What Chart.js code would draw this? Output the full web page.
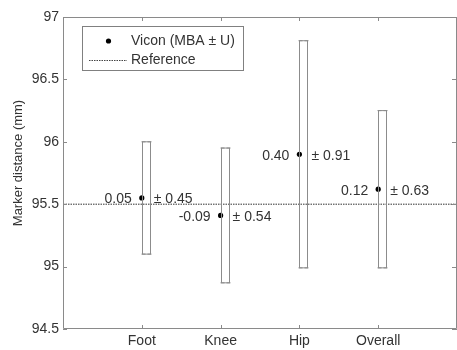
<!DOCTYPE html>
<html>
<head>
  <script src="https://cdn.jsdelivr.net/npm/chart.js@4"></script>
  <style>
    html, body { margin: 0; padding: 0; overflow: hidden; background: #fff; }
  </style>
</head>
<body>
  <canvas id="mbaCanvas" width="461" height="350"></canvas>

  <script>
    const categories = ['Foot', 'Knee', 'Hip', 'Overall'];
    const referenceValue = 95.5;
    const mba = [0.05, -0.09, 0.40, 0.12];
    const uncertainty = [0.45, 0.54, 0.91, 0.63];
    const yTicks = [94.5, 95, 95.5, 96, 96.5, 97];

    const axisColor = '#8a8a8a';
    const textColor = '#333333';
    const textFont = '14px "Liberation Sans", Arial, sans-serif';

    let viconPoints = categories.map((c, i) => ({ x: i + 1, y: referenceValue + mba[i] }));
    let referenceLine = [{ x: 0, y: referenceValue }, { x: categories.length + 1, y: referenceValue }];

    // draws the U rectangles, value labels, axis box, inner ticks, y title and the legend box
    const decorPlugin = {
      id: 'decor',
      afterDatasetsDraw(chart) {
        const ctx = chart.ctx;
        const xs = chart.scales.x;
        const ys = chart.scales.y;
        const area = chart.chartArea;

        ctx.save();

        // uncertainty boxes
        ctx.strokeStyle = '#8c8c8c';
        ctx.lineWidth = 1;
        viconPoints.forEach((p, i) => {
          let px = Math.round(xs.getPixelForValue(p.x)) + 0.5;
          let top = ys.getPixelForValue(p.y + uncertainty[i]);
          let bottom = ys.getPixelForValue(p.y - uncertainty[i]);
          ctx.strokeRect(px, top, 8, bottom - top);
          ctx.beginPath();
          ctx.moveTo(px - 1, top); ctx.lineTo(px + 3, top);
          ctx.moveTo(px + 5, top); ctx.lineTo(px + 9, top);
          ctx.moveTo(px - 1, bottom); ctx.lineTo(px + 3, bottom);
          ctx.moveTo(px + 5, bottom); ctx.lineTo(px + 9, bottom);
          ctx.stroke();
        });

        // value labels
        ctx.font = textFont;
        ctx.fillStyle = textColor;
        ctx.textBaseline = 'middle';
        viconPoints.forEach((p, i) => {
          let px = xs.getPixelForValue(p.x);
          let py = ys.getPixelForValue(p.y) + 1.5;
          ctx.textAlign = 'right';
          ctx.fillText(mba[i].toFixed(2), px - 10, py);
          ctx.textAlign = 'left';
          ctx.fillText('\u00b1 ' + uncertainty[i].toFixed(2), px + 12, py);
        });

        // axis box and inward ticks
        ctx.strokeStyle = axisColor;
        ctx.beginPath();
        ctx.moveTo(area.left + 0.5, area.top + 0.5);
        ctx.lineTo(area.right - 0.5, area.top + 0.5);
        ctx.lineTo(area.right - 0.5, area.bottom - 0.5);
        ctx.lineTo(area.left + 0.5, area.bottom - 0.5);
        ctx.closePath();
        yTicks.forEach(v => {
          let y = Math.round(ys.getPixelForValue(v)) + 0.5;
          ctx.moveTo(area.left, y); ctx.lineTo(area.left + 4, y);
          ctx.moveTo(area.right, y); ctx.lineTo(area.right - 5, y);
        });
        categories.forEach((c, i) => {
          let x = Math.round(xs.getPixelForValue(i + 1)) + 0.5;
          ctx.moveTo(x, area.top); ctx.lineTo(x, area.top + 4);
          ctx.moveTo(x, area.bottom); ctx.lineTo(x, area.bottom - 4);
        });
        ctx.stroke();

        // y axis title
        ctx.save();
        ctx.translate(18, 163);
        ctx.rotate(-Math.PI / 2);
        ctx.textAlign = 'center';
        ctx.textBaseline = 'middle';
        ctx.font = '13px "Liberation Sans", Arial, sans-serif';
        ctx.fillText('Marker distance (mm)', 0, 0);
        ctx.restore();

        // legend
        ctx.fillStyle = '#ffffff';
        ctx.fillRect(83, 27, 160, 43);
        ctx.strokeStyle = '#808080';
        ctx.strokeRect(82.5, 26.5, 161, 44);
        ctx.fillStyle = '#000000';
        ctx.beginPath();
        ctx.arc(108.5, 41, 2.6, 0, Math.PI * 2);
        ctx.fill();
        ctx.strokeStyle = '#444444';
        ctx.setLineDash([1.5, 1]);
        ctx.beginPath();
        ctx.moveTo(89, 60.5); ctx.lineTo(127, 60.5);
        ctx.stroke();
        ctx.setLineDash([]);
        ctx.fillStyle = textColor;
        ctx.font = textFont;
        ctx.textAlign = 'left';
        ctx.textBaseline = 'middle';
        ctx.fillText(chart.data.datasets[0].label, 131, 41.5);
        ctx.fillText(chart.data.datasets[1].label, 131, 60.5);

        ctx.restore();
      }
    };

    const ctx = document.getElementById('mbaCanvas').getContext('2d');

    let chart = new Chart(ctx, {
      type: 'scatter',
      data: {
        datasets: [{
          label: 'Vicon (MBA \u00b1 U)',
          data: viconPoints,
          pointRadius: 2.6,
          pointBackgroundColor: '#000000',
          pointBorderWidth: 0,
          order: 0
        }, {
          label: 'Reference',
          data: referenceLine,
          showLine: true,
          pointRadius: 0,
          borderColor: '#333333',
          borderWidth: 1,
          borderDash: [1.5, 1],
          order: 1
        }]
      },
      options: {
        responsive: false,
        animation: false,
        layout: { padding: { top: 17, right: 0, left: 0, bottom: 0 } },
        plugins: {
          legend: { display: false },
          tooltip: { enabled: false }
        },
        scales: {
          x: {
            type: 'linear',
            min: 0,
            max: categories.length + 1,
            grid: { display: false, drawTicks: false },
            border: { display: false },
            afterBuildTicks: scale => {
              scale.ticks = categories.map((c, i) => ({ value: i + 1 }));
            },
            afterFit: scale => { scale.height = 21; },
            ticks: {
              autoSkip: false,
              maxRotation: 0,
              padding: 4,
              color: textColor,
              font: { family: '"Liberation Sans", Arial, sans-serif', size: 14 },
              callback: v => categories[v - 1]
            }
          },
          y: {
            min: 94.5,
            max: 97,
            grid: { display: false, drawTicks: false },
            border: { display: false },
            afterBuildTicks: scale => {
              scale.ticks = yTicks.map(v => ({ value: v }));
            },
            afterFit: scale => { scale.width = 63; },
            ticks: {
              padding: 4,
              color: textColor,
              font: { family: '"Liberation Sans", Arial, sans-serif', size: 14 },
              callback: v => String(v)
            }
          }
        }
      },
      plugins: [decorPlugin]
    });
  </script>
</body>
</html>
